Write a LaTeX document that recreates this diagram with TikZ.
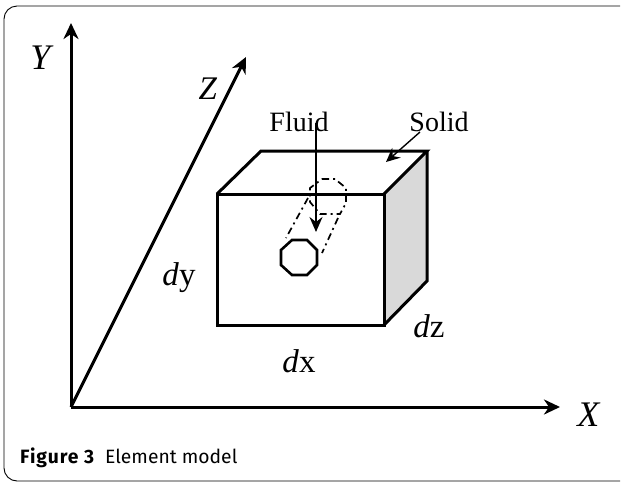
\documentclass[tikz,border=0pt]{standalone}
\usepackage{fontspec}
\setmainfont{Liberation Serif}
\newfontfamily\capfont{Fira Sans}
\usetikzlibrary{arrows.meta}
\tikzset{
  axisline/.style={line width=3pt,-{Stealth[length=16pt,width=15pt,inset=5pt]}},
  flowline/.style={line width=2pt,-{Stealth[length=15pt,width=13pt,inset=5pt]}},
  solidline/.style={line width=1.4pt,-{Stealth[length=14pt,width=13pt,inset=5pt]}},
  boxline/.style={line width=3pt,line join=miter},
  holeline/.style={line width=1.7pt,dash pattern=on 7pt off 4pt on 2pt off 4pt},
  lbl/.style={inner sep=0pt,font=\fontsize{28}{30}\selectfont},
  axislbl/.style={inner sep=0pt,font=\fontsize{36}{38}\selectfont},
  dlbl/.style={inner sep=0pt,font=\fontsize{33}{35}\selectfont},
  caplbl/.style={inner sep=0pt,anchor=base west,font=\capfont\fontsize{19.3}{21}\selectfont}
}
\begin{document}
\begin{tikzpicture}[x=1pt,y=-1pt]
  \useasboundingbox (0,0) rectangle (622,483);
  \draw[line width=.9pt,rounded corners=13pt] (620,6) -- (4,6) -- (4,481) -- (620,481);
  % axes
  \coordinate (O) at (71,407);
  \coordinate (Yend) at (71,23);
  \coordinate (Zend) at (246,57);
  \coordinate (Xend) at (560,407);
  \draw[axisline] (O) -- (Yend);
  \draw[axisline] (O) -- (Zend);
  \draw[axisline] (O) -- (Xend);
  \node[axislbl] (Y) at (42,58) {\textit{Y}};
  \node[dlbl] (Z) at (208,89) {\textit{Z}};
  \node[axislbl] (X) at (589,415) {\textit{X}};
  % element
  \fill[gray!30] (384,194) -- (427,151) -- (427,281) -- (384,325) -- cycle;
  \draw[boxline] (217,194) rectangle (384,325);
  \draw[boxline] (217,194) -- (261,151) -- (427,151) -- (384,194);
  \draw[boxline] (427,151) -- (427,281) -- (384,325);
  % hole
  \draw[line width=2.6pt] (292,240) -- (307,240) -- (317,250) -- (317,265) -- (307,275) -- (292,275) -- (281,265) -- (281,250) -- cycle;
  \draw[holeline] (322,179) -- (335,179) -- (346,188) -- (346,203) -- (340,214) -- (320,214) -- (310,202) -- (310,188) -- cycle;
  \draw[holeline] (308,198) -- (286,238);
  \draw[holeline] (338,218) -- (322,253);
  % labels
  \node[lbl] (Fluid) at (299,122) {Fluid};
  \node[lbl] (Solid) at (439,122) {Solid};
  \coordinate (Fluidtail) at (316,123);
  \coordinate (Fluidtip) at (316,232);
  \coordinate (Solidtail) at (420,132);
  \coordinate (Solidtip) at (386,162);
  \draw[flowline] (Fluidtail) -- (Fluidtip);
  \draw[solidline] (Solidtail) -- (Solidtip);
  \node[dlbl] (dy) at (179,278) {\textit{d}y};
  \node[dlbl] (dx) at (299,361) {\textit{d}x};
  \node[dlbl] (dz) at (429,326) {\textit{d}z};
  % caption
  \node[caplbl] (cap) at (20,463) {{\bfseries\addfontfeature{LetterSpace=5}Figure 3}\hspace{11pt}Element model};
\end{tikzpicture}
\end{document}
